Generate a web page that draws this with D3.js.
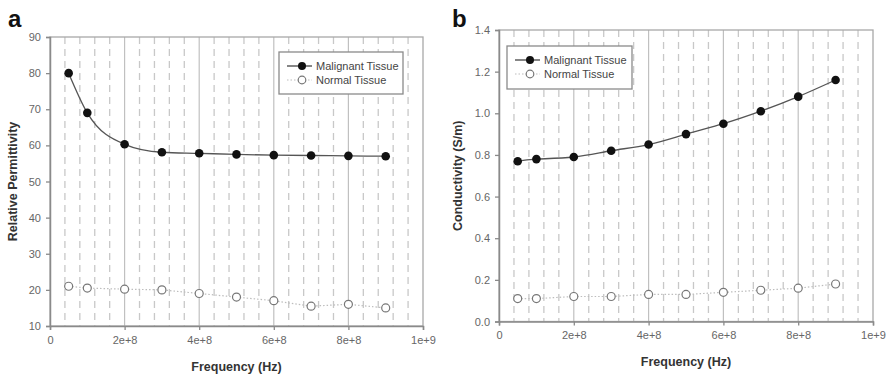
<!DOCTYPE html>
<html>
<head>
<meta charset="utf-8">
<script src="https://cdn.jsdelivr.net/npm/d3@7/dist/d3.min.js"></script>
<style>
  html, body { margin: 0; padding: 0; background: #fff; }
  svg { display: block; font-family: "Liberation Sans", Arial, sans-serif; }
</style>
</head>
<body>
<svg id="chart" width="889" height="375"></svg>
<script>
// Measurement frequencies (Hz)
const frequencies = [5e7, 1e8, 2e8, 3e8, 4e8, 5e8, 6e8, 7e8, 8e8, 9e8];

// Panel a: relative permittivity
const permMalignant = [80, 69, 60.3, 58.1, 57.8, 57.5, 57.3, 57.2, 57.1, 57.0];
const permNormal    = [21, 20.5, 20.2, 20, 19, 18, 17, 15.5, 16, 15];

// Panel b: conductivity (S/m)
const condMalignant = [0.77, 0.78, 0.79, 0.82, 0.85, 0.90, 0.95, 1.01, 1.08, 1.16];
const condNormal    = [0.11, 0.11, 0.12, 0.12, 0.13, 0.13, 0.14, 0.15, 0.16, 0.18];

const xTicks = [0, 2e8, 4e8, 6e8, 8e8, 1e9];
const xTickLabels = ["0", "2e+8", "4e+8", "6e+8", "8e+8", "1e+9"];
const permTicks = [10, 20, 30, 40, 50, 60, 70, 80, 90];
const condTicks = [0, 0.2, 0.4, 0.6, 0.8, 1.0, 1.2, 1.4];

const seriesNames = ["Malignant Tissue", "Normal Tissue"];

const svg = d3.select("#chart");

function drawPanel(cfg) {
  const g = svg.append("g");
  const x = d3.scaleLinear().domain([0, 1e9]).range([cfg.left, cfg.right]);
  const y = d3.scaleLinear().domain(cfg.yDomain).range([cfg.bottom, cfg.top]);

  // minor dashed grid every 4e7, major solid grid every 2e8
  const minor = d3.range(4e7, 1e9, 4e7).filter(v => Math.abs(v / 2e8 - Math.round(v / 2e8)) > 1e-6);
  g.append("g").selectAll("line").data(minor).join("line")
    .attr("x1", d => x(d)).attr("x2", d => x(d))
    .attr("y1", cfg.top).attr("y2", cfg.bottom)
    .attr("stroke", "#c8c8c8").attr("stroke-width", 1.3)
    .attr("stroke-dasharray", "7,5");
  g.append("g").selectAll("line").data(xTicks.slice(1, -1)).join("line")
    .attr("x1", d => x(d)).attr("x2", d => x(d))
    .attr("y1", cfg.top).attr("y2", cfg.bottom)
    .attr("stroke", "#c0c0c0").attr("stroke-width", 1.2);

  // frame
  g.append("rect")
    .attr("x", cfg.left).attr("y", cfg.top)
    .attr("width", cfg.right - cfg.left).attr("height", cfg.bottom - cfg.top)
    .attr("fill", "none").attr("stroke", "#a8a8a8").attr("stroke-width", 1.3);

  // axes
  const xAxis = d3.axisBottom(x).tickValues(xTicks)
    .tickFormat((d, i) => xTickLabels[i]).tickSize(4).tickPadding(6);
  const gx = g.append("g").attr("transform", `translate(0,${cfg.bottom})`).call(xAxis);
  const yAxis = d3.axisLeft(y).tickValues(cfg.yTicks)
    .tickFormat(cfg.yFormat).tickSize(4).tickPadding(5);
  const gy = g.append("g").attr("transform", `translate(${cfg.left},0)`).call(yAxis);
  [gx, gy].forEach(a => {
    a.select(".domain").attr("stroke", "#8a8a8a").attr("stroke-width", 1.5);
    a.selectAll(".tick line").attr("stroke", "#8a8a8a").attr("stroke-width", 1.3);
    a.selectAll(".tick text").attr("fill", "#666").attr("font-size", 11)
      .attr("font-family", "\"Liberation Sans\", Arial, sans-serif");
  });

  // series
  const malPts = frequencies.map((f, i) => [x(f), y(cfg.malignant[i])]);
  const norPts = frequencies.map((f, i) => [x(f), y(cfg.normal[i])]);
  g.append("path").attr("d", d3.line().curve(cfg.curve)(malPts))
    .attr("fill", "none").attr("stroke", "#555").attr("stroke-width", 1.3);
  g.append("path").attr("d", d3.line()(norPts))
    .attr("fill", "none").attr("stroke", "#bdbdbd").attr("stroke-width", 1.2)
    .attr("stroke-dasharray", "1.5,2");
  g.append("g").selectAll("circle").data(malPts).join("circle")
    .attr("cx", d => d[0]).attr("cy", d => d[1]).attr("r", 4.3)
    .attr("fill", "#111");
  g.append("g").selectAll("circle").data(norPts).join("circle")
    .attr("cx", d => d[0]).attr("cy", d => d[1]).attr("r", 4)
    .attr("fill", "#fff").attr("stroke", "#777").attr("stroke-width", 1.2);

  // legend
  const L = cfg.legend;
  const lg = g.append("g");
  lg.append("rect").attr("x", L.x).attr("y", L.y).attr("width", L.w).attr("height", L.h)
    .attr("fill", "#fff").attr("stroke", "#8a8a8a").attr("stroke-width", 1.3);
  const rows = [L.y + 14, L.y + 28];
  const symX = L.x + 23;
  lg.append("line").attr("x1", symX - 15).attr("x2", symX + 10)
    .attr("y1", rows[0]).attr("y2", rows[0]).attr("stroke", "#444").attr("stroke-width", 1.3);
  lg.append("circle").attr("cx", symX).attr("cy", rows[0]).attr("r", 4).attr("fill", "#111");
  lg.append("line").attr("x1", symX - 15).attr("x2", symX + 10)
    .attr("y1", rows[1]).attr("y2", rows[1]).attr("stroke", "#bdbdbd").attr("stroke-width", 1.2)
    .attr("stroke-dasharray", "1.5,2");
  lg.append("circle").attr("cx", symX).attr("cy", rows[1]).attr("r", 3.8)
    .attr("fill", "#fff").attr("stroke", "#777").attr("stroke-width", 1.2);
  lg.selectAll("text").data(seriesNames).join("text")
    .attr("x", symX + 14).attr("y", (d, i) => rows[i] + 4)
    .attr("font-size", 11).attr("fill", "#444").text(d => d);

  // titles
  g.append("text").attr("x", cfg.letterX).attr("y", 27)
    .attr("font-size", 24).attr("font-weight", "bold").attr("fill", "#111").text(cfg.letter);
  g.append("text")
    .attr("x", (cfg.left + cfg.right) / 2).attr("y", cfg.xLabelY)
    .attr("text-anchor", "middle").attr("font-size", 12.5).attr("font-weight", "bold")
    .attr("fill", "#333").text("Frequency (Hz)");
  g.append("text")
    .attr("transform", `translate(${cfg.yLabelX},${(cfg.top + cfg.bottom) / 2}) rotate(-90)`)
    .attr("text-anchor", "middle").attr("font-size", 12.5).attr("font-weight", "bold")
    .attr("fill", "#333").text(cfg.yLabel);
}

drawPanel({
  left: 50, right: 423, top: 37, bottom: 326,
  yDomain: [10, 90], yTicks: permTicks, yFormat: d3.format("d"),
  malignant: permMalignant, normal: permNormal, curve: d3.curveMonotoneX,
  legend: { x: 279, y: 52, w: 124, h: 42 },
  letter: "a", letterX: 8, xLabelY: 371, yLabelX: 17,
  yLabel: "Relative Permittivity"
});

drawPanel({
  left: 499, right: 873, top: 30, bottom: 321.5,
  yDomain: [0, 1.4], yTicks: condTicks, yFormat: d3.format(".1f"),
  malignant: condMalignant, normal: condNormal, curve: d3.curveNatural,
  legend: { x: 507, y: 46, w: 125, h: 43 },
  letter: "b", letterX: 452, xLabelY: 366, yLabelX: 462,
  yLabel: "Conductivity (S/m)"
});
</script>
</body>
</html>
